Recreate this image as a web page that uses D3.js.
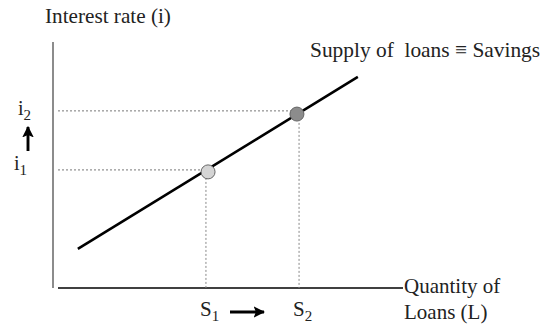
<!DOCTYPE html>
<html><head><meta charset="utf-8">
<script src="https://cdn.jsdelivr.net/npm/d3@7"></script>
<style>body{margin:0;background:#fff}svg{display:block}text{font-family:"Liberation Serif","Times New Roman",serif;fill:#222}</style>
</head><body><svg id="c" width="557" height="331"></svg>
<script>
// data (abstract units 0..100)
const supplyLine = [{q: 7.1, r: 15.9}, {q: 87.1, r: 85.8}];
const equilibria = [{q: 44.3, r: 47.2, fill: "#d4d4d4"}, {q: 69.7, r: 70.7, fill: "#8c8c8c"}];
const rateLevels = [{r: 48, label: "i", sub: "1"}, {r: 72, label: "i", sub: "2"}];
const qtyLevels = [{q: 43.7, label: "S", sub: "1"}, {q: 70.3, label: "S", sub: "2"}];
const yTitle = "Interest rate (i)";
const xTitle = ["Quantity of", "Loans (L)"];
const curveLabel = "Supply of  loans \u2261 Savings";

const svg = d3.select("#c");
const x = d3.scaleLinear().domain([0, 100]).range([53, 403]);
const y = d3.scaleLinear().domain([0, 100]).range([288, 42]);

svg.append("defs").append("marker").attr("id", "ah").attr("viewBox", "0 0 10 10")
  .attr("refX", 9).attr("refY", 5).attr("markerWidth", 4).attr("markerHeight", 4)
  .attr("markerUnits", "strokeWidth").attr("orient", "auto")
  .append("path").attr("d", "M0,0 L10,5 L0,10 L2,5 Z").attr("fill", "#000");

// axes
svg.append("line").attr("x1", x(0)).attr("x2", x(0)).attr("y1", y(100)).attr("y2", y(0))
  .attr("stroke", "#666").attr("stroke-width", 1.5);
svg.append("line").attr("x1", x(0) + 5).attr("x2", x(100)).attr("y1", y(0)).attr("y2", y(0))
  .attr("stroke", "#000").attr("stroke-width", 1.5);

// guide lines
svg.selectAll(".hg").data(rateLevels).join("line")
  .attr("x1", x(0) + 5).attr("x2", (d, i) => x(qtyLevels[i].q))
  .attr("y1", d => y(d.r)).attr("y2", d => y(d.r))
  .attr("stroke", "#777").attr("stroke-width", 1).attr("stroke-dasharray", "2,2");
svg.selectAll(".vg").data(qtyLevels).join("line")
  .attr("x1", d => x(d.q)).attr("x2", d => x(d.q))
  .attr("y1", (d, i) => y(rateLevels[i].r)).attr("y2", y(0))
  .attr("stroke", "#888").attr("stroke-width", 1).attr("stroke-dasharray", "2,2");

// supply line
svg.append("path").datum(supplyLine)
  .attr("d", d3.line().x(d => x(d.q)).y(d => y(d.r)))
  .attr("stroke", "#000").attr("stroke-width", 2.6).attr("fill", "none");

// equilibria
svg.selectAll(".pt").data(equilibria).join("circle")
  .attr("cx", d => x(d.q)).attr("cy", d => y(d.r)).attr("r", 7)
  .attr("fill", d => d.fill).attr("stroke", "#666").attr("stroke-width", 1);

// labels
svg.append("text").attr("x", 45).attr("y", 23).attr("font-size", 21.2).text(yTitle);
svg.append("text").attr("x", 310).attr("y", 57).attr("font-size", 21.4).style("white-space", "pre").text(curveLabel);
svg.selectAll(".xt").data(xTitle).join("text")
  .attr("x", 404).attr("y", (d, i) => 293 + i * 26).attr("font-size", 21).text(d => d);

const rl = svg.selectAll(".rl").data(rateLevels).join("text")
  .attr("x", (d, i) => i === 0 ? 14 : 18).attr("y", d => y(d.r) + (d.sub === "1" ? 0 : 4)).attr("font-size", 20);
rl.append("tspan").text(d => d.label);
rl.append("tspan").attr("dy", 5).attr("font-size", 15).text(d => d.sub);

const ql = svg.selectAll(".ql").data(qtyLevels).join("text")
  .attr("x", d => x(d.q) - 6).attr("y", 316).attr("font-size", 21);
ql.append("tspan").text(d => d.label);
ql.append("tspan").attr("dy", 5).attr("font-size", 15).text(d => d.sub);

// arrows
svg.append("line").attr("x1", 28).attr("x2", 28).attr("y1", 151).attr("y2", 127)
  .attr("stroke", "#000").attr("stroke-width", 2.9).attr("marker-end", "url(#ah)");
svg.append("line").attr("x1", 230).attr("x2", 264).attr("y1", 312).attr("y2", 312)
  .attr("stroke", "#000").attr("stroke-width", 2.9).attr("marker-end", "url(#ah)");
</script></body></html>
